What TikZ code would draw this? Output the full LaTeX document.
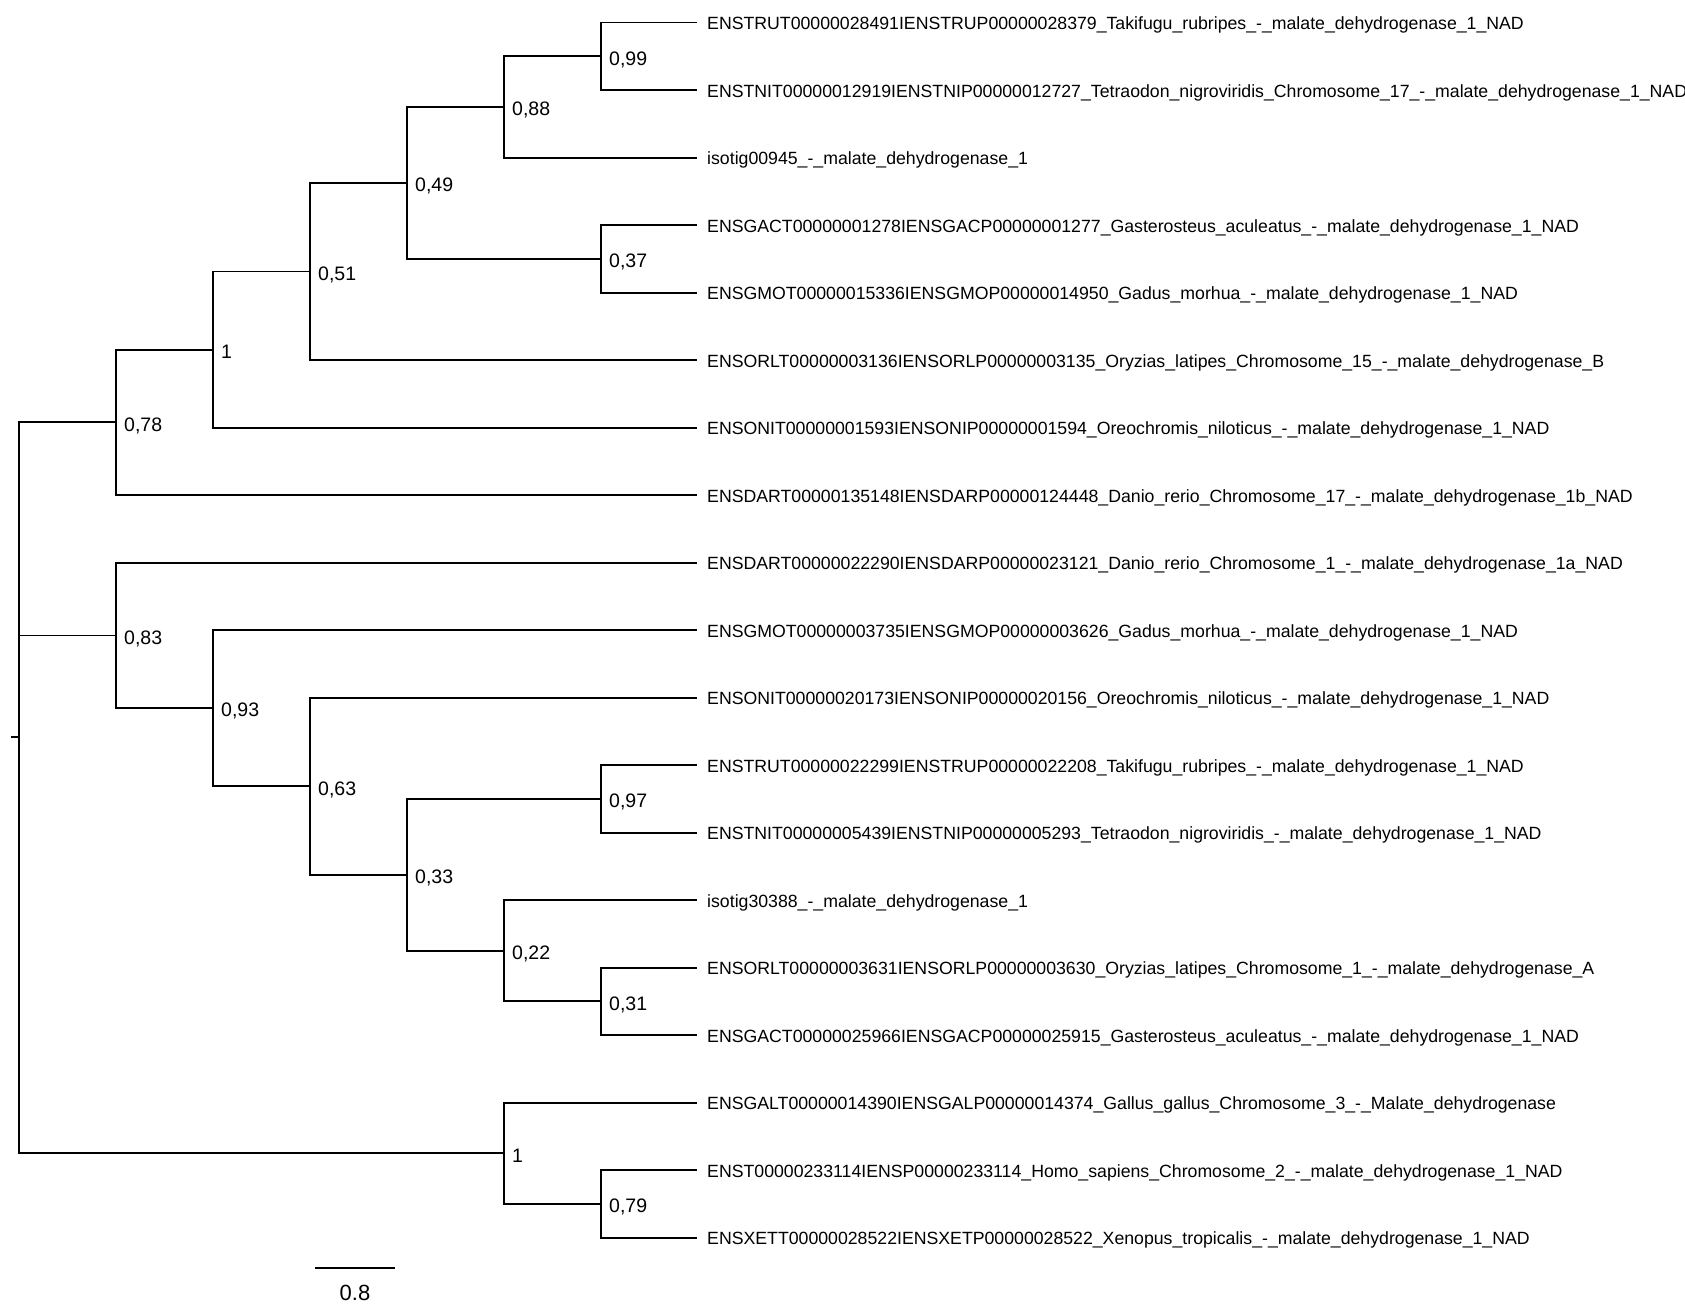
\documentclass[tikz,border=0pt]{standalone}
\usepackage{fontspec}
\setmainfont{Liberation Sans}

\begin{document}
\begin{tikzpicture}[x=1pt,y=-1pt]
\tikzset{
	branch/.style={draw, line width=1.8pt},
	tiplab/.style={anchor=base west, inner sep=0pt, xshift=10pt, yshift=-7.3pt,
		font=\fontsize{17.7}{17.7}\selectfont},
	support/.style={anchor=base west, inner sep=0pt, xshift=8pt, yshift=-8.8pt,
		font=\fontsize{19.5}{19.5}\selectfont}
}
\useasboundingbox (0,0) rectangle (1685,1306);

% leaves
\coordinate (T0) at (697,22.6);
\coordinate (T1) at (697,90.1);
\coordinate (T2) at (697,157.6);
\coordinate (T3) at (697,225.1);
\coordinate (T4) at (697,292.6);
\coordinate (T5) at (697,360.1);
\coordinate (T6) at (697,427.6);
\coordinate (T7) at (697,495.1);
\coordinate (T8) at (697,562.6);
\coordinate (T9) at (697,630.1);
\coordinate (T10) at (697,697.6);
\coordinate (T11) at (697,765.1);
\coordinate (T12) at (697,832.6);
\coordinate (T13) at (697,900.1);
\coordinate (T14) at (697,967.6);
\coordinate (T15) at (697,1035.1);
\coordinate (T16) at (697,1102.6);
\coordinate (T17) at (697,1170.1);
\coordinate (T18) at (697,1237.6);

% inner nodes
\coordinate (ROOT) at (19,737);
\coordinate (STUB) at (11,737);
\coordinate (N078) at (116,422.3);
\coordinate (N1A) at (213,349.6);
\coordinate (N051) at (310,271.5);
\coordinate (N049) at (407,183.0);
\coordinate (N088) at (504,107.0);
\coordinate (N099) at (601,56.4);
\coordinate (N037) at (601,258.9);
\coordinate (N083) at (116,635.4);
\coordinate (N093) at (213,708.1);
\coordinate (N063) at (310,786.2);
\coordinate (N033) at (407,874.8);
\coordinate (N097) at (601,798.9);
\coordinate (N022) at (504,950.7);
\coordinate (N031) at (601,1001.3);
\coordinate (N1B) at (504,1153.2);
\coordinate (N079) at (601,1203.9);

% branches
\draw[branch] (STUB) -- (ROOT);
\draw[branch] (ROOT) |- (N078);
\draw[branch] (ROOT) |- (N083);
\draw[branch] (ROOT) |- (N1B);
\draw[branch] (N078) |- (N1A);
\draw[branch] (N078) |- (T7);
\draw[branch] (N1A) |- (N051);
\draw[branch] (N1A) |- (T6);
\draw[branch] (N051) |- (N049);
\draw[branch] (N051) |- (T5);
\draw[branch] (N049) |- (N088);
\draw[branch] (N049) |- (N037);
\draw[branch] (N088) |- (N099);
\draw[branch] (N088) |- (T2);
\draw[branch] (N099) |- (T0);
\draw[branch] (N099) |- (T1);
\draw[branch] (N037) |- (T3);
\draw[branch] (N037) |- (T4);
\draw[branch] (N083) |- (T8);
\draw[branch] (N083) |- (N093);
\draw[branch] (N093) |- (T9);
\draw[branch] (N093) |- (N063);
\draw[branch] (N063) |- (T10);
\draw[branch] (N063) |- (N033);
\draw[branch] (N033) |- (N097);
\draw[branch] (N033) |- (N022);
\draw[branch] (N097) |- (T11);
\draw[branch] (N097) |- (T12);
\draw[branch] (N022) |- (T13);
\draw[branch] (N022) |- (N031);
\draw[branch] (N031) |- (T14);
\draw[branch] (N031) |- (T15);
\draw[branch] (N1B) |- (T16);
\draw[branch] (N1B) |- (N079);
\draw[branch] (N079) |- (T17);
\draw[branch] (N079) |- (T18);

% support values
\node[support] (S078) at (N078) {0,78};
\node[support] (S1A) at (N1A) {1};
\node[support] (S051) at (N051) {0,51};
\node[support] (S049) at (N049) {0,49};
\node[support] (S088) at (N088) {0,88};
\node[support] (S099) at (N099) {0,99};
\node[support] (S037) at (N037) {0,37};
\node[support] (S083) at (N083) {0,83};
\node[support] (S093) at (N093) {0,93};
\node[support] (S063) at (N063) {0,63};
\node[support] (S033) at (N033) {0,33};
\node[support] (S097) at (N097) {0,97};
\node[support] (S022) at (N022) {0,22};
\node[support] (S031) at (N031) {0,31};
\node[support] (S1B) at (N1B) {1};
\node[support] (S079) at (N079) {0,79};

% leaf names
\node[tiplab] (TakRub1) at (T0) {ENSTRUT00000028491IENSTRUP00000028379\_Takifugu\_rubripes\_-\_malate\_dehydrogenase\_1\_NAD};
\node[tiplab] (TetNig1) at (T1) {ENSTNIT00000012919IENSTNIP00000012727\_Tetraodon\_nigroviridis\_Chromosome\_17\_-\_malate\_dehydrogenase\_1\_NAD};
\node[tiplab] (Iso945) at (T2) {isotig00945\_-\_malate\_dehydrogenase\_1};
\node[tiplab] (GasAcu1) at (T3) {ENSGACT00000001278IENSGACP00000001277\_Gasterosteus\_aculeatus\_-\_malate\_dehydrogenase\_1\_NAD};
\node[tiplab] (GadMor1) at (T4) {ENSGMOT00000015336IENSGMOP00000014950\_Gadus\_morhua\_-\_malate\_dehydrogenase\_1\_NAD};
\node[tiplab] (OryLat1) at (T5) {ENSORLT00000003136IENSORLP00000003135\_Oryzias\_latipes\_Chromosome\_15\_-\_malate\_dehydrogenase\_B};
\node[tiplab] (OreNil1) at (T6) {ENSONIT00000001593IENSONIP00000001594\_Oreochromis\_niloticus\_-\_malate\_dehydrogenase\_1\_NAD};
\node[tiplab] (DanRer1) at (T7) {ENSDART00000135148IENSDARP00000124448\_Danio\_rerio\_Chromosome\_17\_-\_malate\_dehydrogenase\_1b\_NAD};
\node[tiplab] (DanRer2) at (T8) {ENSDART00000022290IENSDARP00000023121\_Danio\_rerio\_Chromosome\_1\_-\_malate\_dehydrogenase\_1a\_NAD};
\node[tiplab] (GadMor2) at (T9) {ENSGMOT00000003735IENSGMOP00000003626\_Gadus\_morhua\_-\_malate\_dehydrogenase\_1\_NAD};
\node[tiplab] (OreNil2) at (T10) {ENSONIT00000020173IENSONIP00000020156\_Oreochromis\_niloticus\_-\_malate\_dehydrogenase\_1\_NAD};
\node[tiplab] (TakRub2) at (T11) {ENSTRUT00000022299IENSTRUP00000022208\_Takifugu\_rubripes\_-\_malate\_dehydrogenase\_1\_NAD};
\node[tiplab] (TetNig2) at (T12) {ENSTNIT00000005439IENSTNIP00000005293\_Tetraodon\_nigroviridis\_-\_malate\_dehydrogenase\_1\_NAD};
\node[tiplab] (Iso30388) at (T13) {isotig30388\_-\_malate\_dehydrogenase\_1};
\node[tiplab] (OryLat2) at (T14) {ENSORLT00000003631IENSORLP00000003630\_Oryzias\_latipes\_Chromosome\_1\_-\_malate\_dehydrogenase\_A};
\node[tiplab] (GasAcu2) at (T15) {ENSGACT00000025966IENSGACP00000025915\_Gasterosteus\_aculeatus\_-\_malate\_dehydrogenase\_1\_NAD};
\node[tiplab] (GalGal) at (T16) {ENSGALT00000014390IENSGALP00000014374\_Gallus\_gallus\_Chromosome\_3\_-\_Malate\_dehydrogenase};
\node[tiplab] (HomSap) at (T17) {ENST00000233114IENSP00000233114\_Homo\_sapiens\_Chromosome\_2\_-\_malate\_dehydrogenase\_1\_NAD};
\node[tiplab] (XenTro) at (T18) {ENSXETT00000028522IENSXETP00000028522\_Xenopus\_tropicalis\_-\_malate\_dehydrogenase\_1\_NAD};

% scale bar
\coordinate (BARL) at (315,1268);
\coordinate (BARR) at (395,1268);
\draw[branch] (BARL) -- (BARR);
\node[font=\fontsize{22}{22}\selectfont, inner sep=0pt] (BARLBL) at (355,1293) {0.8};
\end{tikzpicture}
\end{document}
